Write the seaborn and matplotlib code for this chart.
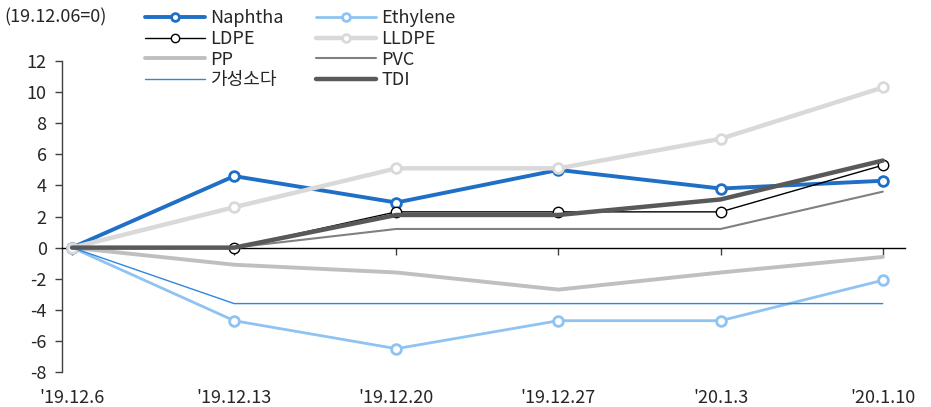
import matplotlib
matplotlib.use("Agg")
import matplotlib.pyplot as plt
import seaborn as sns
import pandas as pd

dates = ["'19.12.6", "'19.12.13", "'19.12.20", "'19.12.27", "'20.1.3", "'20.1.10"]

naphtha = [0, 4.6, 2.9, 5.0, 3.8, 4.3]
ethylene = [0, -4.7, -6.5, -4.7, -4.7, -2.1]
ldpe = [0, 0, 2.3, 2.3, 2.3, 5.3]
lldpe = [0, 2.6, 5.1, 5.1, 7.0, 10.3]
pp = [0, -1.1, -1.6, -2.7, -1.6, -0.6]
pvc = [0, 0, 1.2, 1.2, 1.2, 3.6]
caustic = [0, -3.6, -3.6, -3.6, -3.6, -3.6]
tdi = [0, 0, 2.1, 2.1, 3.1, 5.6]

# name, values, color, linewidth, marker
series = [
    ("Naphtha", naphtha, "#1f6fc6", 2.8, True),
    ("Ethylene", ethylene, "#8ec3f2", 2.0, True),
    ("LDPE", ldpe, "#000000", 1.0, True),
    ("LLDPE", lldpe, "#d9d9d9", 3.2, True),
    ("PP", pp, "#bfbfbf", 2.8, False),
    ("PVC", pvc, "#808080", 1.5, False),
    ("가성소다", caustic, "#2f86e0", 1.0, False),
    ("TDI", tdi, "#595959", 3.2, False),
]

sns.set_style("white")
plt.rcParams['font.family'] = ['Noto Sans CJK KR', 'DejaVu Sans']
plt.rcParams['axes.unicode_minus'] = False

fig = plt.figure(figsize=(9.31, 4.07), dpi=100)
ax = fig.add_axes([0.0666, 0.086, 0.906, 0.764])

x = list(range(len(dates)))
z = 10
for name, vals, color, lw, mk in series:
    df = pd.DataFrame({"x": x, "y": vals})
    kw = {}
    if mk:
        kw = dict(marker="o", markersize=7 if lw > 1.5 else 7.5,
                  markerfacecolor="white", markeredgecolor=color,
                  markeredgewidth=2.0 if lw > 1.5 else 1.0)
    sns.lineplot(data=df, x="x", y="y", color=color, linewidth=lw,
                 label=name, ax=ax, zorder=z, **kw)
    z += 1

ax.set_xlim(-0.062, 5.14)
ax.set_ylim(-8, 12)
ax.set_yticks(range(-8, 13, 2))
ax.set_xticks(x)
ax.set_xticklabels(dates)
ax.set_xlabel("")
ax.set_ylabel("")

for s in ["top", "right"]:
    ax.spines[s].set_visible(False)
ax.spines["left"].set_color("#404040")
ax.spines["left"].set_linewidth(1.0)
ax.spines["bottom"].set_position(("data", 0))
ax.spines["bottom"].set_color("#000000")
ax.spines["bottom"].set_linewidth(1.0)
ax.spines["bottom"].set_zorder(5)

ax.tick_params(axis="y", direction="out", length=5, width=1, color="#404040",
               labelsize=13, pad=6, left=True)
ax.tick_params(axis="x", direction="out", length=5, width=1, color="#404040",
               labelsize=13, pad=97, bottom=True)

ax.get_legend().remove()
handles, labels = ax.get_legend_handles_labels()
# row-major order like the original (2 columns)
order = [0, 2, 4, 6, 1, 3, 5, 7]
fig.legend([handles[i] for i in order], [labels[i] for i in order], ncol=2,
           loc="upper left", bbox_to_anchor=(0.148, 0.995), frameon=False,
           fontsize=13, handlelength=3.3, handletextpad=0.3, columnspacing=1.8,
           labelspacing=0.15, borderaxespad=0, markerscale=0.8)

fig.text(0.005, 0.958, "(19.12.06=0)", fontsize=13, va="center", ha="left")

fig.savefig("out.png", dpi=100)
